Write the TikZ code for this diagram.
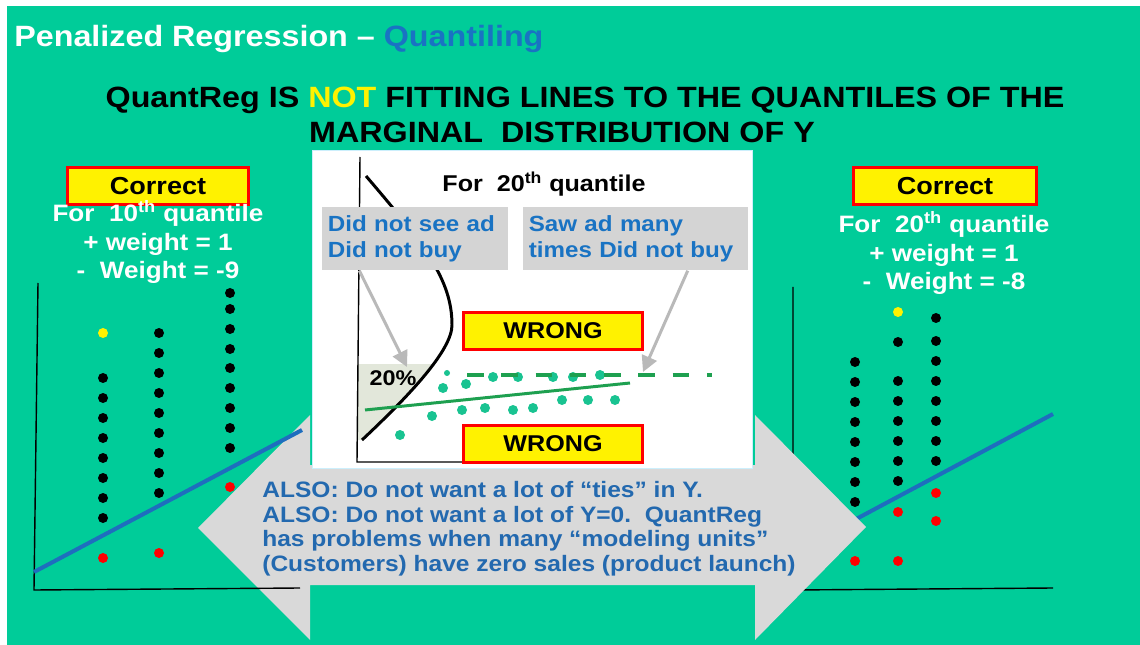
\documentclass[tikz,border=0pt]{standalone}
\usepackage{fontspec}
\setmainfont[FakeStretch=1.1]{Liberation Sans}
\usetikzlibrary{arrows.meta,positioning,calc}

\definecolor{slidegreen}{RGB}{0,204,153}
\definecolor{titleblue}{RGB}{25,115,195}
\definecolor{textblue}{RGB}{35,105,175}
\definecolor{labelgray}{RGB}{212,212,212}
\definecolor{arrowgray}{RGB}{217,217,217}
\definecolor{pointgray}{RGB}{185,185,185}
\definecolor{fitgreen}{RGB}{30,160,80}
\definecolor{dotteal}{RGB}{25,195,145}
\definecolor{lineblue}{RGB}{30,110,190}
\definecolor{shadegray}{RGB}{226,231,218}

\begin{document}
\begin{tikzpicture}[x=0.02cm, y=-0.02cm,
  heading/.style={inner sep=0pt, font=\bfseries\fontsize{16.7}{18}\selectfont},
  flag/.style={draw=red, line width=1.7pt, fill=yellow, inner sep=0pt, minimum height=0.75cm, font=\bfseries\fontsize{14}{16}\selectfont},
  weights/.style={text=white, align=center, inner sep=0pt, font=\bfseries\fontsize{13.5}{16}\selectfont},
  callout/.style={fill=labelgray, text=titleblue, align=left, anchor=north west, inner xsep=0.11cm, minimum height=1.26cm, font=\bfseries\fontsize{12.5}{15.3}\selectfont},
  pointer/.style={draw=pointgray, line width=1.7pt, -{Triangle[length=9pt,width=9pt]}},
  axis/.style={line width=0.8pt},
  fitline/.style={lineblue, line width=2.3pt}
]
\useasboundingbox (0,0) rectangle (1140,645);
\fill[white] (0,0) rectangle (1140,645);
\fill[slidegreen] (7,6) rectangle (1140,645);

% right plot (sits under the big arrow)
\draw[axis] (793,287) -- (793,590) -- (1053,588);
\foreach \y in {362,382,...,502} \fill (855,\y) circle (5);
\foreach \y in {342,381,401,421,441,461,481} \fill (898,\y) circle (5);
\foreach \y in {318,341,361,381,401,421,441,461} \fill (936,\y) circle (5);
\fill[yellow] (898,312) circle (5);
\foreach \a/\b in {855/561,898/512,898/561,936/493,936/521} \fill[red] (\a,\b) circle (5);
\draw[fitline] (830,533) -- (1053,414);

% big double arrow
\fill[arrowgray] (198,528) -- (310,415) -- (310,465) -- (755,465) -- (755,415) -- (866,527)
  -- (755,640) -- (755,585) -- (310,585) -- (310,640) -- cycle;

% left plot
\draw[axis] (38,283) -- (34,590) -- (300,588);
\foreach \y in {378,398,...,518} \fill (103,\y) circle (5);
\foreach \y in {333,353,...,493} \fill (159,\y) circle (5);
\foreach \y in {293,309,329,349,368,388,408,428,448} \fill (230,\y) circle (5);
\fill[yellow] (103,333) circle (5);
\foreach \a/\b in {103/558,159/553,230/487} \fill[red] (\a,\b) circle (5);
\draw[fitline] (34,572) -- (302,430);

% inset
\node[draw=cyan!20, line width=0.8pt, fill=white, anchor=north west, minimum width=8.8cm, minimum height=6.36cm] (inset) at (312,150) {};
\begin{scope}
  \clip (357,365) rectangle (470,470);
  \fill[shadegray] (357,320) -- (452,325) .. controls (452,350) and (410,395) .. (362,440) -- (357,440) -- cycle;
\end{scope}
\draw[axis] (360,157) -- (357,462) -- (500,462);
\draw[line width=1.7pt] (366,176) .. controls (425,245) and (452,280) .. (452,325)
  .. controls (452,350) and (410,395) .. (362,440);
\foreach \a/\b in {443/388,466/384,493/377,518/377,553/377,573/377,600/375,432/416,462/410,485/408,513/410,533/408,562/400,588/400,615/400,400/435}
  \fill[dotteal] (\a,\b) circle (5);
\fill[dotteal] (447,373) circle (3);
\draw[fitgreen, line width=2.3pt, dash pattern=on 9.5pt off 10pt] (467,375) -- (712,375);
\draw[fitgreen, line width=1.7pt] (365,410) -- (630,383);

\node[font=\bfseries\fontsize{13}{16}\selectfont] (inq) at (544,184) {For\ \ 20\textsuperscript{th} quantile};
\node[callout, text width=3.5cm] (nosee) at (322,207) {Did not see ad\\Did not buy};
\node[callout, text width=4.28cm] (manysee) at (523,207) {Saw ad many\\times\ Did not buy};
\coordinate (lowpt) at (407,367);
\coordinate (highpt) at (643,372);
\draw[pointer] ($(nosee.south west)!0.2!(nosee.south east)$) -- (lowpt);
\draw[pointer] ($(manysee.south west)!0.73!(manysee.south east)$) -- (highpt);
\node[font=\bfseries\fontsize{12.1}{14}\selectfont] (pct) at (393,378) {20\%};
\node[flag, minimum width=3.6cm, font=\bfseries\fontsize{13}{16}\selectfont] (wrongtop) at (553,331) {WRONG};
\node[flag, minimum width=3.6cm, font=\bfseries\fontsize{13}{16}\selectfont] (wrongbot) at (553,444) {WRONG};

% titles
\node[heading, anchor=base west, text=white] (title) at (14,47) {Penalized Regression – \textcolor{titleblue}{Quantiling}};
\node[heading] (head1) at (585,100) {QuantReg IS \textcolor{yellow}{NOT} FITTING LINES TO THE QUANTILES OF THE};
\node[heading] (head2) at (562,132) {MARGINAL\ \ DISTRIBUTION OF Y};

% side labels
\node[flag, minimum width=3.62cm] (okleft) at (158,186) {Correct};
\node[flag, minimum width=3.66cm] (okright) at (945,186) {Correct};
\node[weights] (wleft) at (158,242) {For\ \ 10\textsuperscript{th} quantile\\+ weight = 1\\-\ \ Weight = -9};
\node[weights] (wright) at (944,253) {For\ \ 20\textsuperscript{th} quantile\\+ weight = 1\\-\ \ Weight = -8};

% note in the arrow
\node[anchor=north west, align=left, text=textblue, inner sep=0pt, font=\bfseries\fontsize{12.7}{14}\selectfont] (also) at (262,481)
  {ALSO: Do not want a lot of “ties” in Y.\\ALSO: Do not want a lot of Y=0.\ \ QuantReg\\has problems when many “modeling units”\\(Customers)\ have zero sales (product launch)};
\end{tikzpicture}
\end{document}
